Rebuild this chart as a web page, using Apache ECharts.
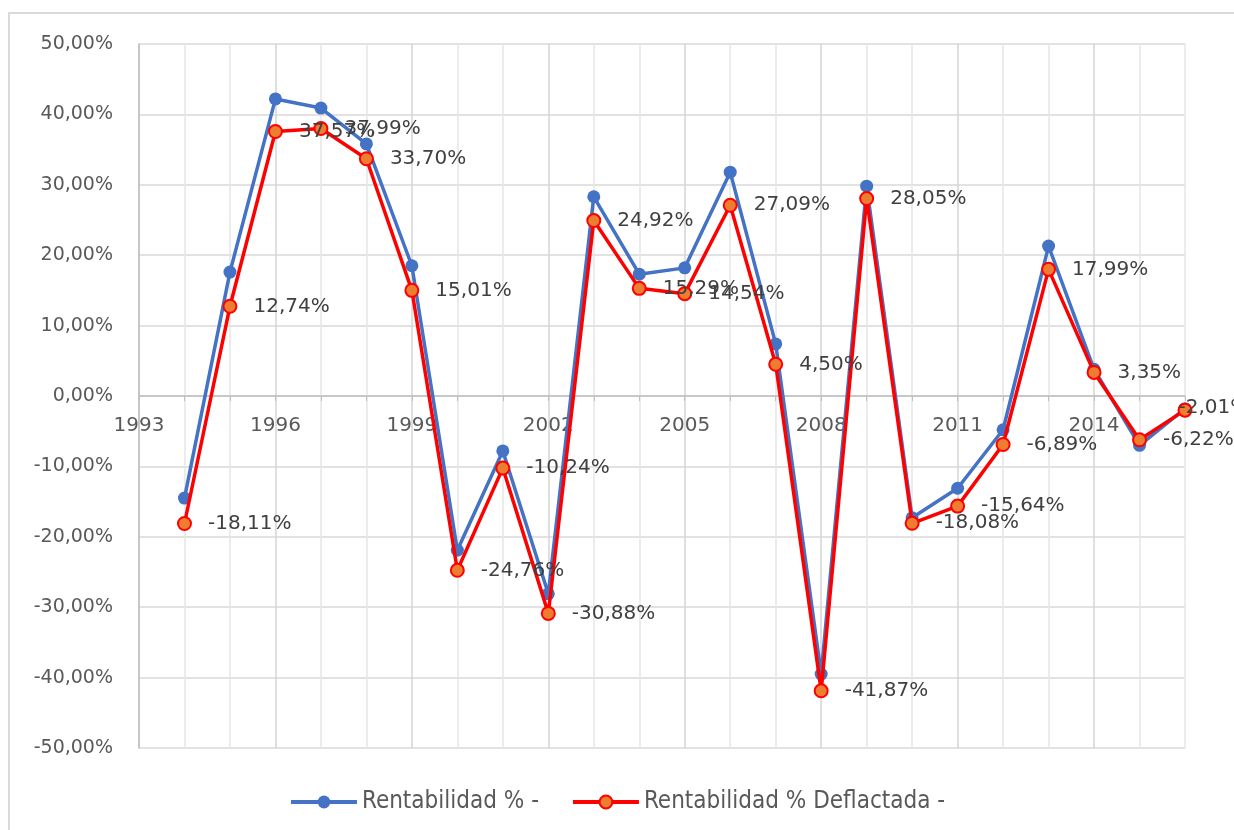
<!DOCTYPE html>
<html>
<head>
<meta charset="utf-8">
<script src="https://cdn.jsdelivr.net/npm/echarts@6/dist/echarts.min.js"></script>
<style>
  html, body { margin: 0; padding: 0; background: #fff; }
  #chart { width: 1234px; height: 830px; }
</style>
</head>
<body>
<div id="chart"></div>
<script>
// Annual returns, 1994–2016
const years = [1994, 1995, 1996, 1997, 1998, 1999, 2000, 2001, 2002, 2003, 2004, 2005,
               2006, 2007, 2008, 2009, 2010, 2011, 2012, 2013, 2014, 2015, 2016];
const rentabilidad = [-14.5, 17.6, 42.2, 40.9, 35.8, 18.5, -21.9, -7.8, -28.1, 28.3, 17.3, 18.2,
                      31.8, 7.4, -39.5, 29.8, -17.3, -13.1, -4.8, 21.3, 3.8, -7.0, -1.8];
const rentabilidadDeflactada = [-18.11, 12.74, 37.57, 37.99, 33.70, 15.01, -24.76, -10.24, -30.88, 24.92, 15.29, 14.54,
                                27.09, 4.50, -41.87, 28.05, -18.08, -15.64, -6.89, 17.99, 3.35, -6.22, -2.01];
const seriesNames = ['Rentabilidad % -', 'Rentabilidad % Deflactada -'];

const pct = v => v.toFixed(2).replace('.', ',') + '%';
const pairs = vals => years.map((y, i) => [y, vals[i]]);

const FONT = 'DejaVu Sans';
const GRID = { left: 139, right: 49, top: 44, bottom: 82 };
const PLOT_H = 830 - GRID.top - GRID.bottom;

// the last label is pulled back towards its marker so it stays near the right edge
const deflactadaData = pairs(rentabilidadDeflactada).map((d, i, arr) =>
  i === arr.length - 1 ? { value: d, label: { offset: [-30, -2] } } : d);

const chart = echarts.init(document.getElementById('chart'), null, { renderer: 'canvas' });

chart.setOption({
  animation: false,
  backgroundColor: '#ffffff',
  graphic: [{
    type: 'rect',
    shape: { x: 9, y: 13, width: 1240, height: 840 },
    style: { fill: 'none', stroke: '#d9d9d9', lineWidth: 2 },
    silent: true
  }],
  grid: Object.assign({ containLabel: false }, GRID),
  legend: {
    bottom: 11,
    left: 'center',
    itemWidth: 66,
    itemHeight: 16,
    itemGap: 32,
    lineStyle: { width: 4 },
    textStyle: { fontFamily: 'Liberation Sans Narrow, DejaVu Sans Condensed', fontSize: 24, color: '#595959' },
    data: seriesNames
  },
  xAxis: {
    type: 'value',
    min: 1993,
    max: 2016,
    interval: 1,
    position: 'bottom',
    // the year axis sits on the 0 % line, halfway up the symmetric value range
    offset: -PLOT_H / 2,
    axisLine: { onZero: false, lineStyle: { color: '#bfbfbf', width: 1.5 } },
    axisTick: { show: true, length: 5, lineStyle: { color: '#bfbfbf' } },
    axisLabel: {
      margin: 20,
      fontFamily: FONT,
      fontSize: 20,
      color: '#595959',
      formatter: v => ((v - 1993) % 3 === 0 && v < 2016) ? String(v) : ''
    },
    splitLine: { show: true, lineStyle: { color: ['#d4d4d4', '#e6e6e6', '#e6e6e6'], width: 1.5 } }
  },
  yAxis: {
    type: 'value',
    min: -50,
    max: 50,
    interval: 10,
    axisLine: { show: true, onZero: false, lineStyle: { color: '#bfbfbf', width: 1.5 } },
    axisTick: { show: false },
    axisLabel: {
      margin: 26,
      fontFamily: FONT,
      fontSize: 19,
      color: '#595959',
      formatter: v => pct(v)
    },
    splitLine: { show: true, lineStyle: { color: '#d9d9d9', width: 1.5 } }
  },
  series: [
    {
      name: seriesNames[0],
      type: 'line',
      data: pairs(rentabilidad),
      symbol: 'circle',
      symbolSize: 13,
      lineStyle: { color: '#4472c4', width: 3.5 },
      itemStyle: { color: '#4472c4' },
      z: 2
    },
    {
      name: seriesNames[1],
      type: 'line',
      data: deflactadaData,
      symbol: 'circle',
      symbolSize: 13,
      lineStyle: { color: '#ff0000', width: 3.5 },
      itemStyle: { color: '#ed7d31', borderColor: '#ff0000', borderWidth: 2 },
      label: {
        show: true,
        position: 'right',
        distance: 16,
        fontFamily: FONT,
        fontSize: 20,
        color: '#404040',
        formatter: p => pct(p.value[1])
      },
      z: 3
    }
  ]
});
</script>
</body>
</html>
